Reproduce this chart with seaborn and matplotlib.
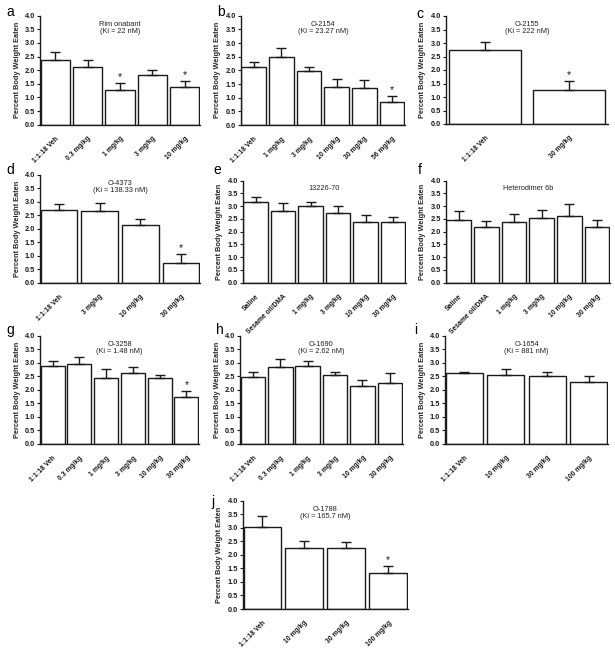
import matplotlib
matplotlib.use("Agg")
import matplotlib.pyplot as plt
import seaborn as sns
import pandas as pd

sns.set_theme(style="white")
plt.rcParams['font.family'] = ['Liberation Sans', 'DejaVu Sans']

# ---------------- data ----------------
cats_a = ["1:1:18 Veh", "0.3 mg/kg", "1 mg/kg", "3 mg/kg", "10 mg/kg"]
mean_a = [2.36, 2.13, 1.26, 1.83, 1.39]
sem_a = [0.29, 0.26, 0.28, 0.19, 0.20]
sig_a = [False, False, True, False, True]
title_a = "Rim onabant\n(Ki = 22 nM)"

cats_b = ["1:1:18 Veh", "1 mg/kg", "3 mg/kg", "10 mg/kg", "30 mg/kg", "56 mg/kg"]
mean_b = [2.13, 2.50, 1.96, 1.39, 1.36, 0.86]
sem_b = [0.17, 0.30, 0.18, 0.28, 0.27, 0.21]
sig_b = [False, False, False, False, False, True]
title_b = "O-2154\n(Ki = 23.27 nM)"

cats_c = ["1:1:18 Veh", "30 mg/kg"]
mean_c = [2.74, 1.25]
sem_c = [0.28, 0.35]
sig_c = [False, True]
title_c = "O-2155\n(Ki = 222 nM)"

cats_d = ["1:1:18 Veh", "3 mg/kg", "10 mg/kg", "30 mg/kg"]
mean_d = [2.70, 2.64, 2.12, 0.74]
sem_d = [0.21, 0.31, 0.25, 0.32]
sig_d = [False, False, False, True]
title_d = "O-4373\n(Ki = 138.33 nM)"

cats_e = ["Saline", "Sesame oil/DMA", "1 mg/kg", "3 mg/kg", "10 mg/kg", "30 mg/kg"]
mean_e = [3.15, 2.81, 3.02, 2.72, 2.37, 2.38]
sem_e = [0.22, 0.31, 0.16, 0.30, 0.30, 0.20]
sig_e = [False] * 6
title_e = "13226-70"

cats_f = ["Saline", "Sesame oil/DMA", "1 mg/kg", "3 mg/kg", "10 mg/kg", "30 mg/kg"]
mean_f = [2.46, 2.18, 2.37, 2.54, 2.61, 2.18]
sem_f = [0.37, 0.25, 0.31, 0.33, 0.46, 0.27]
sig_f = [False] * 6
title_f = "Heterodimer 6b"

cats_g = ["1:1:18 Veh", "0.3 mg/kg", "1 mg/kg", "3 mg/kg", "10 mg/kg", "30 mg/kg"]
mean_g = [2.87, 2.97, 2.42, 2.63, 2.42, 1.75]
sem_g = [0.18, 0.26, 0.36, 0.22, 0.14, 0.21]
sig_g = [False, False, False, False, False, True]
title_g = "O-3258\n(Ki = 1.48 nM)"

cats_h = ["1:1:18 Veh", "0.3 mg/kg", "1 mg/kg", "3 mg/kg", "10 mg/kg", "30 mg/kg"]
mean_h = [2.46, 2.83, 2.89, 2.56, 2.14, 2.26]
sem_h = [0.21, 0.32, 0.18, 0.11, 0.21, 0.38]
sig_h = [False] * 6
title_h = "O-1690\n(Ki = 2.62 nM)"

cats_i = ["1:1:18 Veh", "10 mg/kg", "30 mg/kg", "100 mg/kg"]
mean_i = [2.61, 2.55, 2.50, 2.28]
sem_i = [0.06, 0.23, 0.15, 0.25]
sig_i = [False] * 4
title_i = "O-1654\n(Ki = 881 nM)"

cats_j = ["1:1:18 Veh", "10 mg/kg", "30 mg/kg", "100 mg/kg"]
mean_j = [3.04, 2.24, 2.24, 1.33]
sem_j = [0.38, 0.29, 0.22, 0.26]
sig_j = [False, False, False, True]
title_j = "O-1788\n(Ki = 165.7 nM)"

yticks = [0.0, 0.5, 1.0, 1.5, 2.0, 2.5, 3.0, 3.5, 4.0]
ylabel = "Percent Body Weight Eaten"

# ---------------- layout (pixels: left, right, top, bottom; label x, y) ----------------
W, H = 615, 648
panels = [
    ("a", cats_a, mean_a, sem_a, sig_a, title_a, (40, 200, 15.7, 124.7), (10, 12)),
    ("b", cats_b, mean_b, sem_b, sig_b, title_b, (240.7, 405, 15.7, 125), (221, 12)),
    ("c", cats_c, mean_c, sem_c, sig_c, title_c, (445.7, 608, 16, 124), (420, 14)),
    ("d", cats_d, mean_d, sem_d, sig_d, title_d, (40, 200, 174.7, 282.7), (10, 170)),
    ("e", cats_e, mean_e, sem_e, sig_e, title_e, (242.7, 406, 180.7, 282.7), (217, 170)),
    ("f", cats_f, mean_f, sem_f, sig_f, title_f, (445.7, 610, 180.7, 282.7), (420, 170)),
    ("g", cats_g, mean_g, sem_g, sig_g, title_g, (40, 199, 335.7, 444), (10, 330)),
    ("h", cats_h, mean_h, sem_h, sig_h, title_h, (240, 402.7, 335.7, 444), (220, 330)),
    ("i", cats_i, mean_i, sem_i, sig_i, title_i, (445, 608, 335.7, 444), (416, 330)),
    ("j", cats_j, mean_j, sem_j, sig_j, title_j, (242.7, 408, 500.7, 609), (213, 502)),
]

fig = plt.figure(figsize=(W / 100, H / 100), dpi=100)
fig.patch.set_facecolor("white")
edge = "#1a1a1a"
fs = 5.3
fsx = 4.9

for lab, cats, means, sems, sigs, title, (l, r, t, b), (lx, ly) in panels:
    ax = fig.add_axes([l / W, 1 - b / H, (r - l) / W, (b - t) / H])
    df = pd.DataFrame({"cond": cats, "val": means})
    bw = 0.86 if len(cats) <= 2 else 0.9
    sns.barplot(data=df, x="cond", y="val", ax=ax, color="white",
                edgecolor=edge, linewidth=1.0, width=bw, errorbar=None,
                saturation=1)
    xs = list(range(len(cats)))
    ax.errorbar(xs, means, yerr=[[0] * len(sems), sems], fmt="none",
                ecolor=edge, elinewidth=1.0, capsize=3.4, capthick=1.0)
    for x, m, s, sg in zip(xs, means, sems, sigs):
        if sg:
            ax.text(x, m + s + 0.04, "*", ha="center", va="bottom",
                    fontsize=7.5, color=edge)
    ax.set_xlim(-0.47, len(cats) - 0.53)
    ax.set_ylim(0, 4.0)
    ax.set_yticks(yticks)
    ax.set_yticklabels([f"{v:.1f}" for v in yticks], fontsize=fs, fontweight="bold")
    ax.set_xticks(xs)
    ax.set_xticklabels(cats, rotation=45, ha="right", rotation_mode="anchor",
                       fontsize=fsx, fontweight="bold")
    ax.set_xlabel("")
    ax.set_ylabel(ylabel, fontsize=fs, fontweight="bold", labelpad=3)
    for s in ["top", "right"]:
        ax.spines[s].set_visible(False)
    for s in ["left", "bottom"]:
        ax.spines[s].set_color(edge)
        ax.spines[s].set_linewidth(1.0)
    ax.tick_params(axis="y", left=True, length=2, width=0.8, pad=1.5, colors=edge)
    ax.tick_params(axis="x", bottom=False, pad=1.5, colors=edge)
    ax.set_facecolor("white")
    ax.text(0.5, 0.955, title, transform=ax.transAxes, ha="center", va="top",
            fontsize=fs, color="#222222", linespacing=1.1)
    fig.text(lx / W, 1 - ly / H, lab, ha="center", va="center", fontsize=10,
             color="black")

fig.savefig("out.png", dpi=100, facecolor="white")
